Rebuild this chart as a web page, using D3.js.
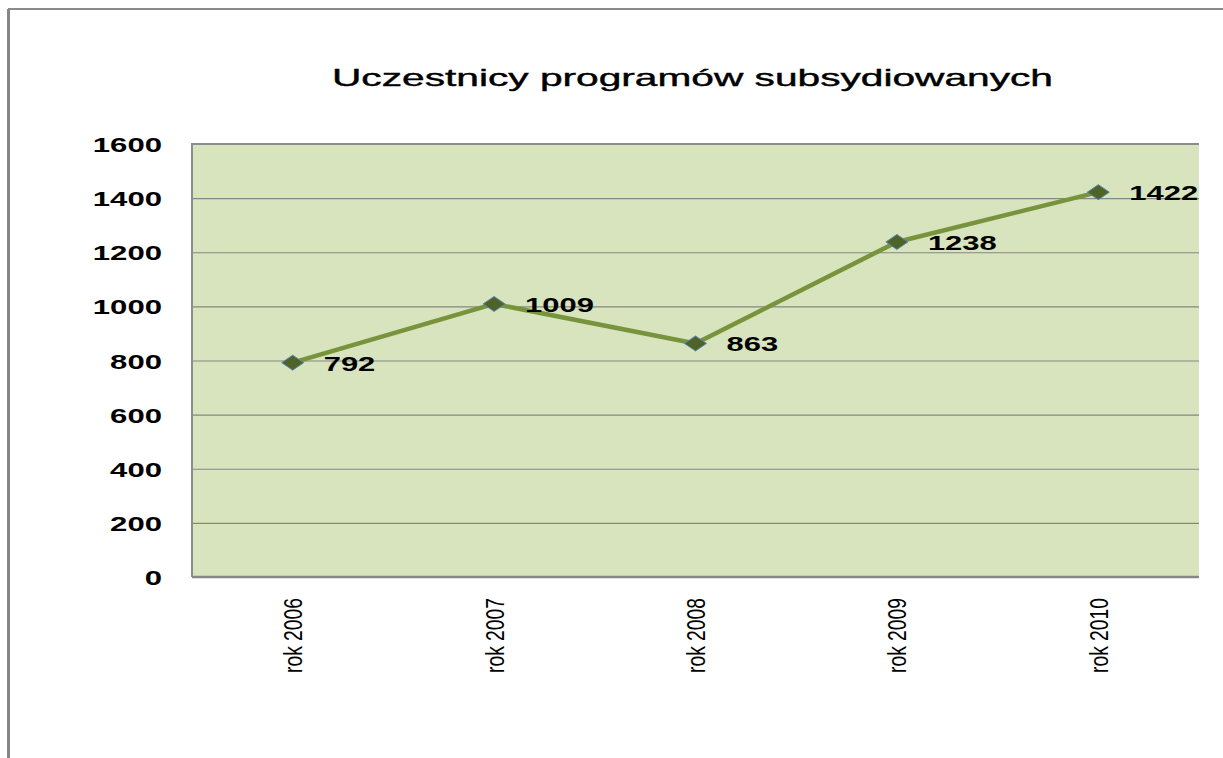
<!DOCTYPE html>
<html>
<head>
<meta charset="utf-8">
<script src="https://cdn.jsdelivr.net/npm/d3@7"></script>
<style>
  body { margin: 0; background: #fff; }
  svg { display: block; }
</style>
</head>
<body>
<div id="chart"></div>
<script>
(function() {
  // data
  var years = ["rok 2006", "rok 2007", "rok 2008", "rok 2009", "rok 2010"];
  var participants = [792, 1009, 863, 1238, 1422];
  var yTicks = [0, 200, 400, 600, 800, 1000, 1200, 1400, 1600];
  var title = "Uczestnicy programów subsydiowanych";

  var W = 1223, H = 758;
  var margin = { top: 144, left: 192, right: 24, bottom: 181 },
  width = W - margin.left - margin.right,
  height = H - margin.top - margin.bottom;

  var svg = d3.select("#chart")
    .append("svg")
    .attr("width", W)
    .attr("height", H);

  // outer frame (only top and left visible)
  svg.append("line")
    .attr("x1", 8.5).attr("y1", 9).attr("x2", 8.5).attr("y2", H)
    .attr("stroke", "#858585").attr("stroke-width", 3);
  svg.append("line")
    .attr("x1", 8).attr("y1", 9).attr("x2", W).attr("y2", 9)
    .attr("stroke", "#8a8a8a").attr("stroke-width", 2);

  // title
  svg.append("text")
    .attr("x", 332)
    .attr("y", 86)
    .attr("textLength", 721)
    .attr("lengthAdjust", "spacingAndGlyphs")
    .style("font-family", "Arial, 'Liberation Sans', sans-serif")
    .style("font-size", "24px")
    .style("stroke", "#000")
    .style("stroke-width", 0.4)
    .style("fill", "#000")
    .text(title);

  var g = svg.append("g")
    .attr("transform", "translate(" + margin.left + "," + margin.top + ")");

  var xPositionScale = d3.scalePoint()
    .domain(years)
    .range([0, width])
    .padding(0.5);

  var yPositionScale = d3.scaleLinear()
    .domain([0, 1600])
    .range([height, 0]);

  // plot area
  g.append("rect")
    .attr("width", width)
    .attr("height", height)
    .attr("fill", "#d7e4bd");

  // gridlines
  var grid = d3.axisLeft(yPositionScale).tickValues(yTicks).tickSize(-width).tickFormat("");
  g.append("g")
    .attr("class", "grid")
    .call(grid)
    .call(function(s) {
      s.select(".domain").remove();
      s.selectAll("line").attr("stroke", "#868686").attr("stroke-width", 1.2);
    });

  // plot border
  g.append("path")
    .attr("d", "M0," + height + "V0H" + width)
    .attr("fill", "none")
    .attr("stroke", "#8c8c8c")
    .attr("stroke-width", 2);
  g.append("line")
    .attr("x1", 0).attr("x2", width)
    .attr("y1", height).attr("y2", height)
    .attr("stroke", "#868686")
    .attr("stroke-width", 2.5);

  // y axis labels
  var yAxis = d3.axisLeft(yPositionScale).tickValues(yTicks).tickSize(0).tickPadding(30)
    .tickFormat(d3.format("d"));
  g.append("g")
    .attr("class", "axis y-axis")
    .call(yAxis)
    .call(function(s) {
      s.select(".domain").remove();
      s.selectAll("text")
        .attr("dy", "0.36em")
        .attr("textLength", function(d) { return String(d).length * 17.3; })
        .attr("lengthAdjust", "spacingAndGlyphs")
        .style("font-family", "Arial, 'Liberation Sans', sans-serif")
        .style("font-size", "21px")
        .style("font-weight", "bold")
        .style("fill", "#000");
    });

  // x axis labels, rotated
  var xAxis = d3.axisBottom(xPositionScale).tickSize(0);
  g.append("g")
    .attr("class", "axis x-axis")
    .attr("transform", "translate(0," + height + ")")
    .call(xAxis)
    .call(function(s) {
      s.select(".domain").remove();
      s.selectAll("text")
        .attr("x", -21)
        .attr("y", 0)
        .attr("dy", "0.36em")
        .attr("transform", "rotate(-90)")
        .attr("text-anchor", "end")
        .attr("textLength", 75)
        .attr("lengthAdjust", "spacingAndGlyphs")
        .style("font-family", "'Liberation Sans Narrow', 'Arial Narrow', 'Liberation Sans', sans-serif")
        .style("font-size", "25px")
        .style("fill", "#000");
    });

  var datapoints = years.map(function(y, i) { return { year: y, value: participants[i] }; });

  var line = d3.line()
    .x(function(d) { return xPositionScale(d.year); })
    .y(function(d) { return yPositionScale(d.value); });

  g.append("path")
    .datum(datapoints)
    .attr("d", line)
    .attr("fill", "none")
    .attr("stroke", "#77933c")
    .attr("stroke-width", 4.5)
    .attr("stroke-linejoin", "round");

  // diamond markers
  g.selectAll(".marker")
    .data(datapoints)
    .enter().append("path")
    .attr("class", "marker")
    .attr("d", "M-11,0L0,-7.5L11,0L0,7.5Z")
    .attr("transform", function(d) {
      return "translate(" + xPositionScale(d.year) + "," + yPositionScale(d.value) + ")";
    })
    .attr("fill", "#4f6228")
    .attr("stroke", "#5b85b5")
    .attr("stroke-width", 1);

  // data labels
  g.selectAll(".value-label")
    .data(datapoints)
    .enter().append("text")
    .attr("class", "value-label")
    .attr("x", function(d) { return xPositionScale(d.year) + 31; })
    .attr("y", function(d) { return yPositionScale(d.value); })
    .attr("dy", "0.38em")
    .attr("textLength", function(d) { return String(d.value).length * 17.2; })
    .attr("lengthAdjust", "spacingAndGlyphs")
    .style("font-family", "Arial, 'Liberation Sans', sans-serif")
    .style("font-size", "21px")
    .style("font-weight", "bold")
    .style("fill", "#000")
    .text(function(d) { return d.value; });
})();
</script>
</body>
</html>
